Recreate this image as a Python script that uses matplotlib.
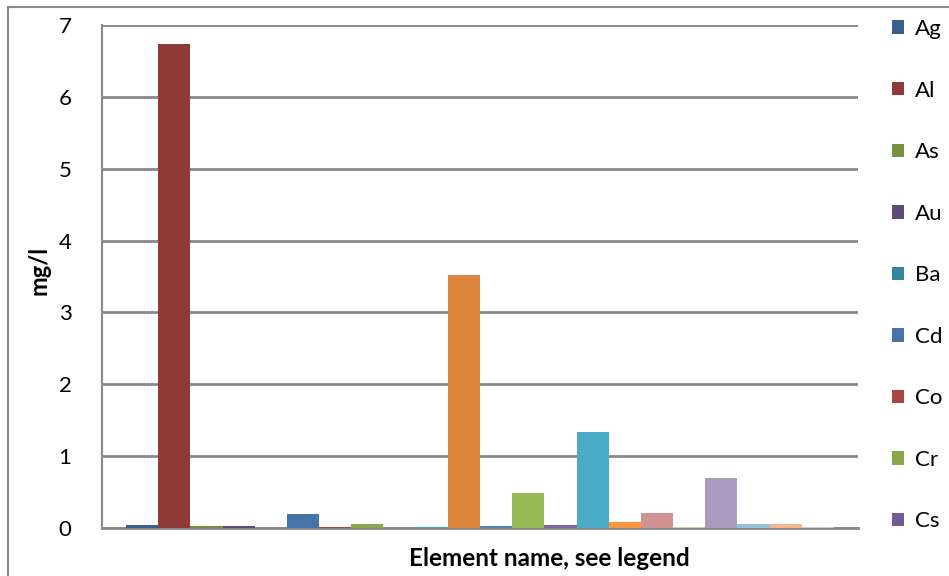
import matplotlib
matplotlib.use("Agg")
import matplotlib.pyplot as plt
from matplotlib.lines import Line2D
from matplotlib.patches import Patch

# ---- data ----
elements = ["Ag", "Al", "As", "Au", "Ba", "Cd", "Co", "Cr", "Cs",
            "S10", "S11", "S12", "S13", "S14", "S15", "S16", "S17",
            "S18", "S19", "S20", "S21", "S22"]
values = [0.045, 6.74, 0.025, 0.025, 0.004, 0.195, 0.012, 0.055, 0.003,
          0.008, 3.52, 0.025, 0.49, 0.04, 1.34, 0.08, 0.21,
          0.02, 0.70, 0.055, 0.055, 0.02]
colors = ["#3A5F8C", "#8E3A38", "#76923C", "#5F4B7B", "#31859C", "#4673AA",
          "#A94442", "#8BA74E", "#735996", "#46A2BC", "#DB843D", "#4F81BD",
          "#9BBB59", "#8064A2", "#4BACC6", "#F79646", "#D09391", "#C3D69B",
          "#A99BBD", "#93C3D6", "#F9B48D", "#C5CBDB"]
legend_shown = 9
yticks = [0, 1, 2, 3, 4, 5, 6, 7]
xlabel = "Element name, see legend"
ylabel = "mg/l"

W, H = 949, 576
fig = plt.figure(figsize=(W / 100, H / 100), dpi=100)
font = "Lato"
plt.rcParams["font.family"] = [font, "DejaVu Sans"]

ax = fig.add_axes([102 / W, (H - 528) / H, (858 - 102) / W, (528 - 25) / H])

n = len(values)
w = 1.0 / (n + 1.5)
for i, (v, c) in enumerate(zip(values, colors)):
    x = -0.5 + 0.75 * w + (i + 0.5) * w
    ax.bar(x, v, width=w, color=c, edgecolor="none", zorder=3, label=elements[i])

ax.set_xlim(-0.5, 0.5)
ax.set_ylim(0, 7)
ax.set_yticks(yticks)
ax.set_yticklabels([str(t) for t in yticks], fontsize=16)
ax.set_xticks([])
ax.tick_params(axis="y", length=0, pad=22)
ax.grid(axis="y", color="#8A8A8A", linewidth=2.0, zorder=0)
for s in ["top", "right"]:
    ax.spines[s].set_visible(False)
ax.spines["left"].set_color("#8A8A8A")
ax.spines["left"].set_linewidth(1.5)
ax.spines["bottom"].set_color("#8A8A8A")
ax.spines["bottom"].set_linewidth(2.0)

fig.text(549 / W, 1 - 558 / H, xlabel, fontsize=17.5, fontweight="bold",
         ha="center", va="center")
fig.text(39 / W, 1 - 270 / H, ylabel, fontsize=17, fontweight="bold",
         ha="center", va="center", rotation=90)

handles = [Patch(facecolor=colors[i], edgecolor="none") for i in range(legend_shown)]
fig.legend(handles, elements[:legend_shown], loc="upper left",
           bbox_to_anchor=(892 / W, 1 - 19 / H), frameon=False, fontsize=16,
           handlelength=0.55, handleheight=0.55, handletextpad=0.5,
           labelspacing=1.87, borderpad=0, borderaxespad=0)

# chart area border
fig.add_artist(Line2D([8 / W, 8 / W], [1 - 7 / H, 0], transform=fig.transFigure,
                      color="#8A8A8A", linewidth=1.5))
fig.add_artist(Line2D([8 / W, 1], [1 - 7 / H, 1 - 7 / H], transform=fig.transFigure,
                      color="#8A8A8A", linewidth=1.5))

fig.savefig("out.png", dpi=100)
